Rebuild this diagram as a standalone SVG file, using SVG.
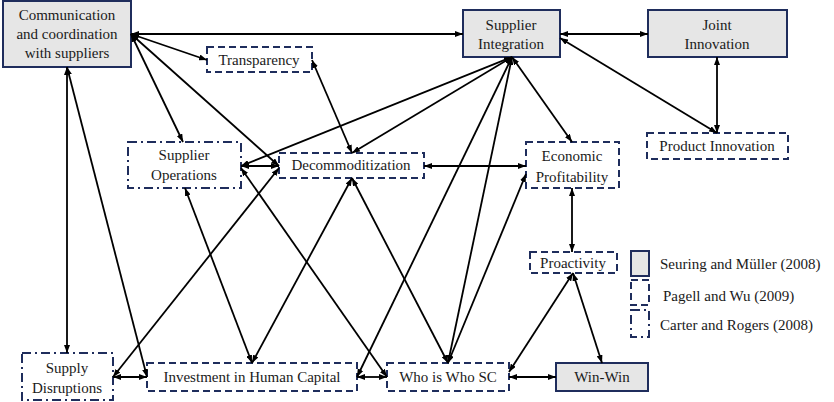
<svg xmlns="http://www.w3.org/2000/svg" width="834" height="402" viewBox="0 0 834 402">
<style>
.box{stroke:#1f2d5c;stroke-width:2}
.solid{fill:#e6e6e6}
.dash{fill:#fff;stroke-dasharray:7,4}
.dd{fill:#fff;stroke-dasharray:9,4,2,4}
.t{font-family:"Liberation Serif",serif;font-size:15px;fill:#1a1a1a;text-anchor:middle}
.leg{text-anchor:start}
#connectors line{stroke:#000;stroke-width:1.8;marker-start:url(#ah);marker-end:url(#ah)}
</style>
<defs>
<marker id="ah" viewBox="0 0 8 6" refX="8" refY="3" markerWidth="8" markerHeight="6" markerUnits="userSpaceOnUse" orient="auto-start-reverse">
<path d="M0,0 L8,3 L0,6 z" fill="#000"/>
</marker>
</defs>
<rect width="834" height="402" fill="#fff"/>

<g class="t">
<g id="n-comm"><rect class="box solid" x="3" y="1" width="128" height="66"/>
<text x="67" y="20">Communication</text><text x="67" y="39">and coordination</text><text x="67" y="58">with suppliers</text></g>
<g id="n-si"><rect class="box solid" x="463" y="10" width="97" height="47"/>
<text x="511" y="30">Supplier</text><text x="511" y="49">Integration</text></g>
<g id="n-ji"><rect class="box solid" x="648" y="10" width="139" height="47"/>
<text x="717" y="30">Joint</text><text x="717" y="49">Innovation</text></g>
<g id="n-tr"><rect class="box dash" x="207" y="47" width="105" height="25"/>
<text x="259" y="65">Transparency</text></g>
<g id="n-so"><rect class="box dd" x="128" y="142" width="113" height="46"/>
<text x="184" y="160">Supplier</text><text x="184" y="180">Operations</text></g>
<g id="n-dc"><rect class="box dash" x="279" y="153" width="145" height="25"/>
<text x="351" y="170">Decommoditization</text></g>
<g id="n-ep"><rect class="box dash" x="526" y="142" width="93" height="46"/>
<text x="572" y="161">Economic</text><text x="572" y="182">Profitability</text></g>
<g id="n-pi"><rect class="box dash" x="647" y="133" width="141" height="26"/>
<text x="717" y="151">Product Innovation</text></g>
<g id="n-pr"><rect class="box dash" x="530" y="252" width="87" height="21"/>
<text x="573" y="268">Proactivity</text></g>
<g id="n-sd"><rect class="box dd" x="22" y="353" width="91" height="47"/>
<text x="67" y="373">Supply</text><text x="67" y="393">Disruptions</text></g>
<g id="n-ih"><rect class="box dash" x="147" y="363" width="210" height="28"/>
<text x="252" y="382">Investment in Human Capital</text></g>
<g id="n-ww"><rect class="box dash" x="387" y="363" width="122" height="28"/>
<text x="448" y="382">Who is Who SC</text></g>
<g id="n-win"><rect class="box solid" x="556" y="363" width="92" height="28"/>
<text x="602" y="382">Win-Win</text></g>

<g id="legend">
<rect class="box solid" x="631" y="251" width="18" height="25"/>
<rect class="box dash" x="631" y="280" width="18" height="25"/>
<rect class="box dd" x="631" y="310" width="18" height="27"/>
<text class="leg" x="660" y="269">Seuring  and Müller (2008)</text>
<text class="leg" x="663" y="301">Pagell and Wu (2009)</text>
<text class="leg" x="660" y="330">Carter and Rogers (2008)</text>
</g>
</g>

<g id="connectors">
<line x1="131" y1="34" x2="463" y2="34"/>
<line x1="131" y1="34" x2="207" y2="60"/>
<line x1="131" y1="34" x2="183" y2="142"/>
<line x1="131" y1="34" x2="279" y2="166"/>
<line x1="67" y1="67" x2="67" y2="353"/>
<line x1="67" y1="67" x2="147" y2="377"/>
<line x1="560" y1="34" x2="648" y2="34"/>
<line x1="560" y1="38" x2="717" y2="133"/>
<line x1="717" y1="57" x2="717" y2="133"/>
<line x1="512" y1="57" x2="241" y2="166"/>
<line x1="512" y1="57" x2="352" y2="153"/>
<line x1="512" y1="57" x2="357" y2="377"/>
<line x1="512" y1="57" x2="448" y2="363"/>
<line x1="512" y1="57" x2="572" y2="142"/>
<line x1="312" y1="60" x2="352" y2="153"/>
<line x1="241" y1="166" x2="279" y2="166"/>
<line x1="241" y1="168" x2="387" y2="377"/>
<line x1="279" y1="168" x2="113" y2="377"/>
<line x1="185" y1="188" x2="252" y2="363"/>
<line x1="352" y1="178" x2="252" y2="363"/>
<line x1="352" y1="178" x2="448" y2="363"/>
<line x1="424" y1="166" x2="526" y2="166"/>
<line x1="448" y1="363" x2="526" y2="174"/>
<line x1="572" y1="188" x2="572" y2="252"/>
<line x1="573" y1="273" x2="509" y2="372"/>
<line x1="573" y1="273" x2="602" y2="363"/>
<line x1="509" y1="377" x2="556" y2="377"/>
<line x1="113" y1="377" x2="147" y2="377"/>
<line x1="357" y1="377" x2="387" y2="377"/>
</g>
</svg>
